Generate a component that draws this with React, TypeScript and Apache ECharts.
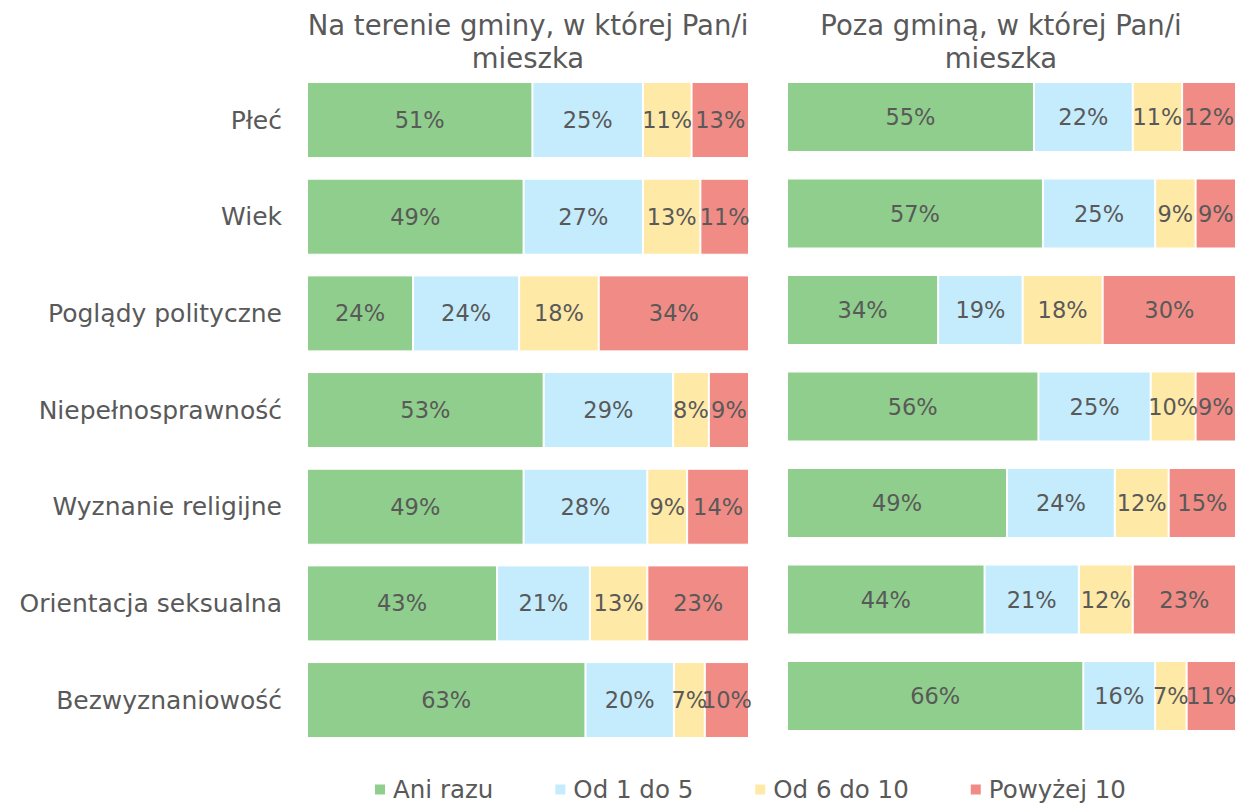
import React, { useEffect, useRef } from "react";
import * as echarts from "echarts";

const categories = [
  "Płeć",
  "Wiek",
  "Poglądy polityczne",
  "Niepełnosprawność",
  "Wyznanie religijne",
  "Orientacja seksualna",
  "Bezwyznaniowość",
];
const seriesNames = ["Ani razu", "Od 1 do 5", "Od 6 do 10", "Powyżej 10"];
const colors = ["#8FCE8C", "#C5ECFD", "#FFE9A6", "#F08C85"];

// Left panel: "Na terenie gminy, w której Pan/i mieszka"
const leftAniRazu = [51, 49, 24, 53, 49, 43, 63];
const leftOd1do5 = [25, 27, 24, 29, 28, 21, 20];
const leftOd6do10 = [11, 13, 18, 8, 9, 13, 7];
const leftPowyzej10 = [13, 11, 34, 9, 14, 23, 10];

// Right panel: "Poza gminą, w której Pan/i mieszka"
const rightAniRazu = [55, 57, 34, 56, 49, 44, 66];
const rightOd1do5 = [22, 25, 19, 25, 24, 21, 16];
const rightOd6do10 = [11, 9, 18, 10, 12, 12, 7];
const rightPowyzej10 = [12, 9, 30, 9, 15, 23, 11];

const titles = ["Na terenie gminy, w której Pan/i\nmieszka", "Poza gminą, w której Pan/i\nmieszka"];

const FONT = "'Century Gothic', 'DejaVu Sans', sans-serif";
const TEXT = "#595959";

function buildSeries(panel: number[][], idx: number, barWidth: number) {
  const sums = categories.map((_, i) => panel.reduce((s, arr) => s + arr[i], 0));
  return panel.map((arr, k) => ({
    type: "bar",
    name: seriesNames[k],
    stack: "s" + idx,
    xAxisIndex: idx,
    yAxisIndex: idx,
    barWidth,
    itemStyle: { color: colors[k], borderColor: "#ffffff", borderWidth: 1 },
    label: {
      show: true,
      position: "inside",
      color: TEXT,
      fontFamily: FONT,
      fontSize: 22.5,
      formatter: (p: any) => arr[p.dataIndex] + "%",
    },
    data: arr.map((v, i) => (v / sums[i]) * 100),
  }));
}

export default function App() {
  const ref = useRef<HTMLDivElement>(null);
  useEffect(() => {
    if (!ref.current) return;
    const chart = echarts.init(ref.current, null, { renderer: "svg" });
    const left = [leftAniRazu, leftOd1do5, leftOd6do10, leftPowyzej10];
    const right = [rightAniRazu, rightOd1do5, rightOd6do10, rightPowyzej10];
    const titleStyle = { color: TEXT, fontFamily: FONT, fontSize: 27.5, fontWeight: "normal", lineHeight: 33 };
    chart.setOption({
      animation: false,
      backgroundColor: "#ffffff",
      textStyle: { fontFamily: FONT },
      title: [
        { text: titles[0], left: 528, top: 8, padding: 0, textAlign: "center", textStyle: titleStyle },
        { text: titles[1], left: 1001, top: 8, padding: 0, textAlign: "center", textStyle: titleStyle },
      ],
      legend: {
        data: seriesNames,
        left: 373,
        top: 777,
        padding: 0,
        itemWidth: 12,
        itemHeight: 12,
        itemGap: 60,
        icon: "rect",
        textStyle: { color: TEXT, fontFamily: FONT, fontSize: 24.5, lineHeight: 24, padding: [0, 0, 0, 2] },
      },
      grid: [
        { left: 307, width: 442, top: 71.7, height: 676.7 },
        { left: 787, width: 449, top: 68.75, height: 675.5 },
      ],
      xAxis: [
        { type: "value", gridIndex: 0, min: 0, max: 100, show: false },
        { type: "value", gridIndex: 1, min: 0, max: 100, show: false },
      ],
      yAxis: [
        {
          type: "category",
          gridIndex: 0,
          data: categories,
          inverse: true,
          axisLine: { show: false },
          axisTick: { show: false },
          axisLabel: { color: TEXT, fontFamily: FONT, fontSize: 25, margin: 25 },
        },
        {
          type: "category",
          gridIndex: 1,
          data: categories,
          inverse: true,
          axisLine: { show: false },
          axisTick: { show: false },
          axisLabel: { show: false },
        },
      ],
      series: [...buildSeries(left, 0, 76), ...buildSeries(right, 1, 70)],
    });
    return () => chart.dispose();
  }, []);
  return <div ref={ref} style={{ width: 1238, height: 805, position: "absolute", left: 0, top: 0 }} />;
}
